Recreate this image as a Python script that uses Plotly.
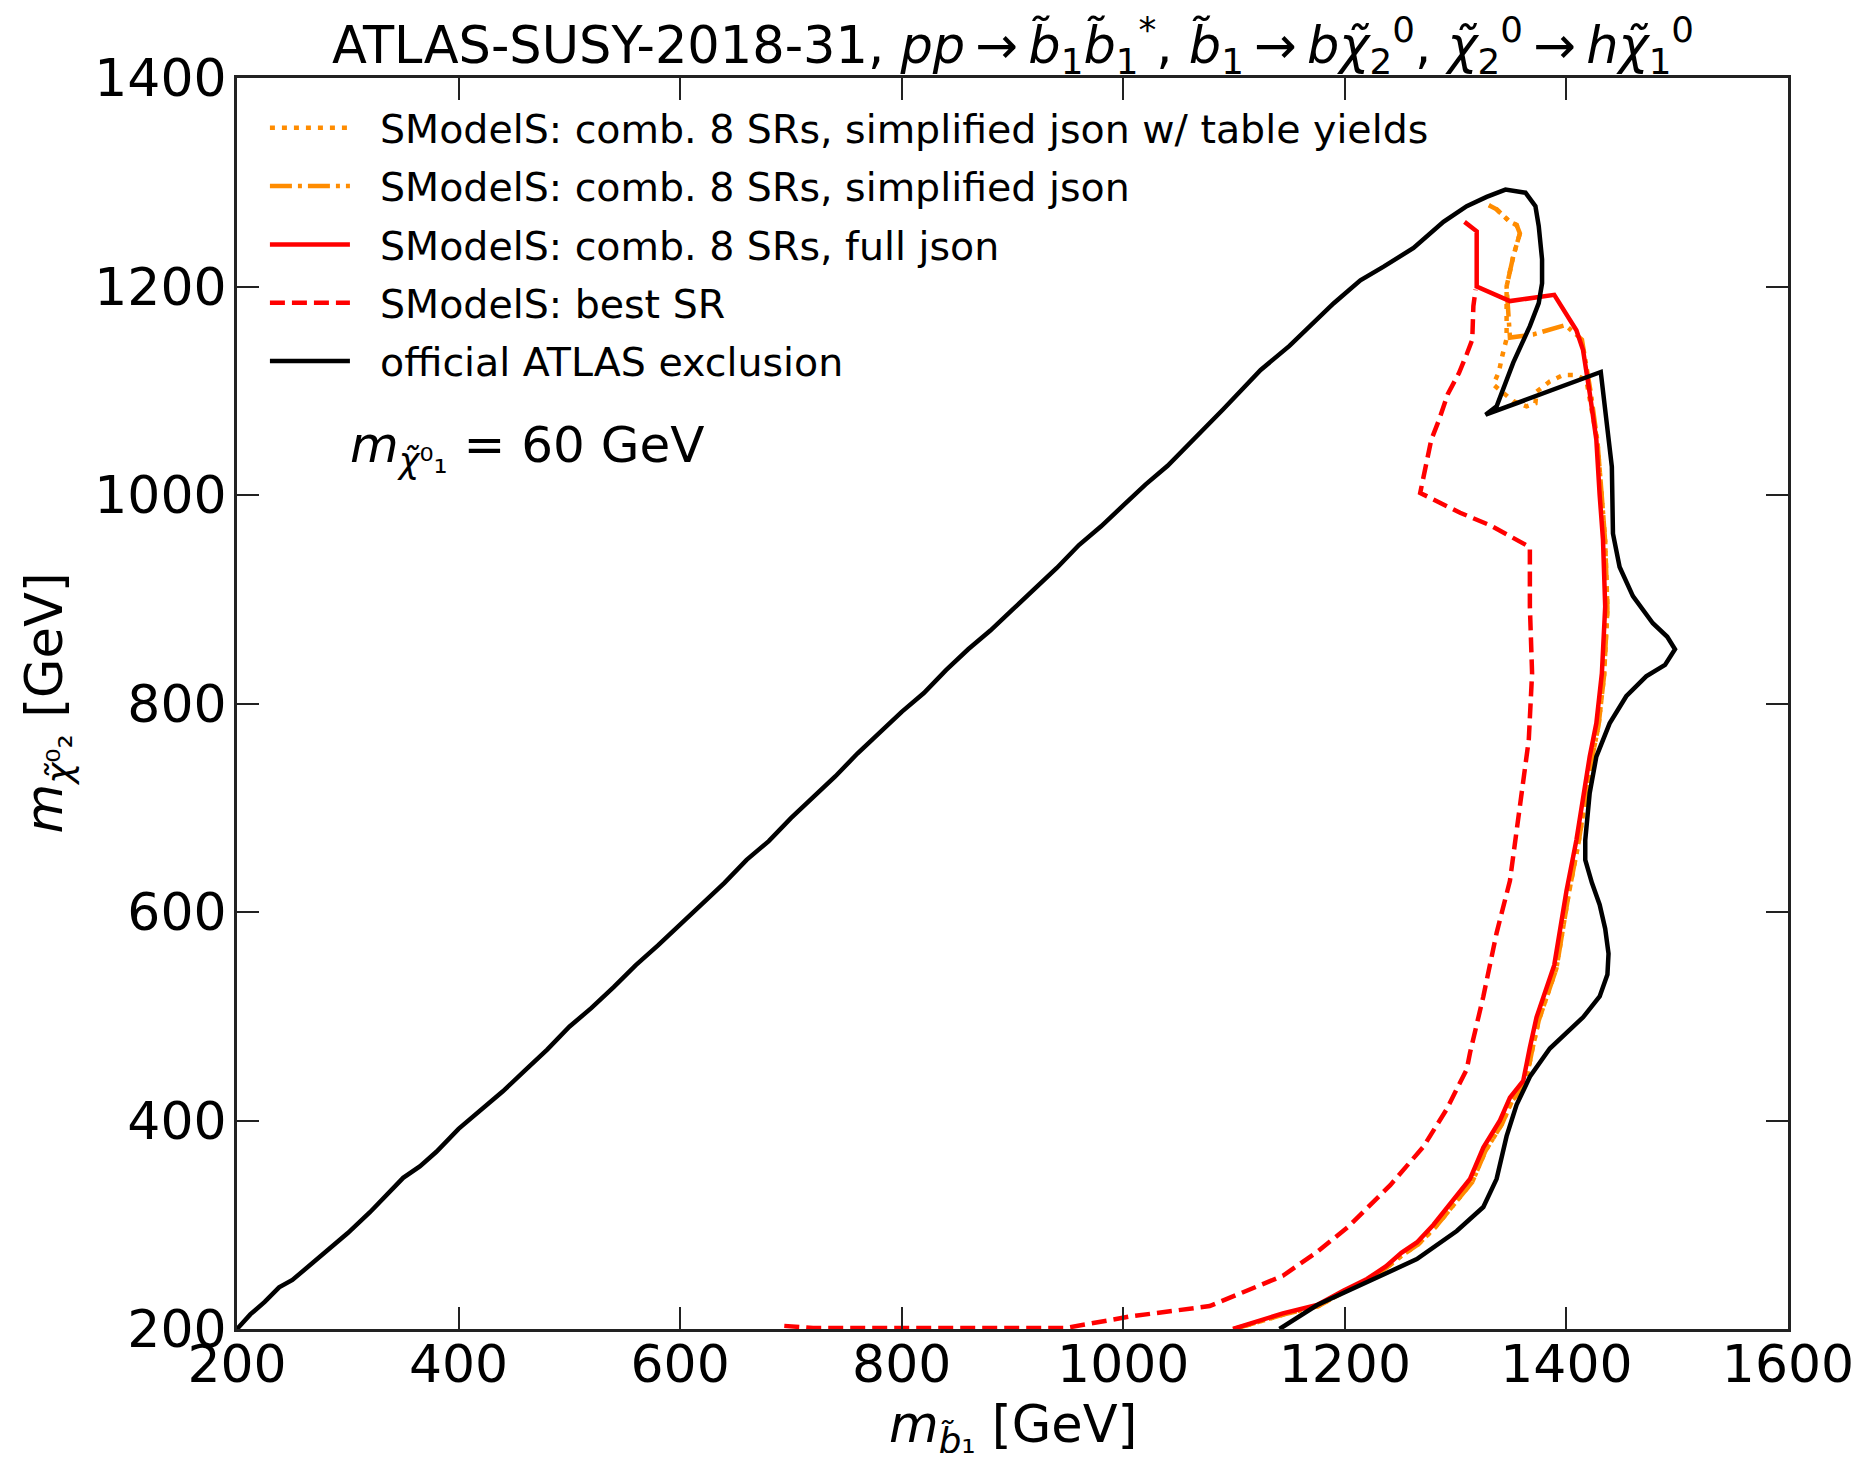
import plotly.graph_objects as go

# ---------------- data ----------------
official_x = [200, 212, 225, 238, 250, 262, 280, 300, 320, 340,
              350, 365, 380, 400, 420, 440, 460, 480, 500, 520,
              540, 560, 580, 600, 620, 640, 660, 680, 700, 720,
              740, 760, 780, 800, 820, 840, 860, 880, 900, 920,
              940, 960, 980, 1000, 1020, 1040, 1069, 1090, 1124, 1150,
              1190, 1214, 1235, 1250, 1262, 1289, 1310, 1328, 1345, 1363,
              1372, 1375, 1378, 1378, 1375, 1367, 1352, 1337, 1327, 1431,
              1436, 1441, 1442, 1448, 1460, 1478, 1491, 1498, 1489, 1472,
              1454, 1439, 1427, 1421, 1417, 1417, 1423, 1430, 1435, 1438,
              1437, 1430, 1415, 1385, 1367, 1355, 1346, 1337, 1325, 1301,
              1265, 1205, 1175, 1141]
official_y = [200, 214, 226, 240, 247, 258, 274, 292, 312, 333,
              345, 356, 370, 392, 410, 428, 448, 468, 490, 508,
              528, 549, 568, 588, 608, 628, 650, 668, 690, 710,
              730, 752, 772, 792, 810, 832, 852, 870, 890, 910,
              930, 952, 970, 990, 1010, 1028, 1059, 1082, 1120, 1143,
              1184, 1206, 1219, 1229, 1237, 1262, 1277, 1286, 1293, 1290,
              1277, 1258, 1226, 1203, 1184, 1162, 1127, 1085, 1077, 1118,
              1075, 1027, 963, 931, 903, 877, 864, 852, 837, 826,
              807, 781, 749, 714, 669, 650, 628, 607, 584, 560,
              540, 519, 499, 469, 442, 415, 385, 344, 317, 294,
              267, 237, 223, 200]

full_x = [1099, 1120, 1144, 1175, 1199, 1220, 1237, 1251, 1265, 1280,
          1295, 1313, 1325, 1340, 1349, 1361, 1367, 1373, 1389, 1400,
          1409, 1415, 1421, 1427, 1432, 1435, 1433, 1430, 1427, 1421,
          1415, 1409, 1389, 1349, 1319, 1319, 1308]
full_y = [200, 207, 215, 223, 237, 248, 260, 273, 283, 300,
          320, 344, 374, 400, 422, 438, 470, 499, 549, 620,
          669, 708, 749, 781, 829, 893, 957, 1000, 1053, 1098,
          1139, 1158, 1192, 1186, 1200, 1253, 1262]

simp_x = [1100, 1120, 1145, 1176, 1200, 1221, 1238, 1252, 1266, 1282,
          1297, 1315, 1327, 1342, 1351, 1363, 1369, 1375, 1391, 1402,
          1411, 1417, 1423, 1429, 1434, 1437, 1435, 1432, 1428, 1422,
          1414, 1399, 1370, 1349, 1346, 1352, 1358, 1355, 1349, 1337,
          1330]
simp_y = [200, 206, 214, 222, 236, 247, 259, 271, 281, 298,
          318, 341, 371, 397, 419, 435, 467, 496, 546, 617,
          667, 706, 747, 779, 827, 891, 955, 998, 1051, 1098,
          1149, 1163, 1154, 1151, 1200, 1229, 1251, 1259, 1262, 1274,
          1278]

table_x = [1100, 1120, 1145, 1176, 1200, 1221, 1238, 1252, 1266, 1282,
           1297, 1315, 1327, 1342, 1351, 1363, 1369, 1375, 1391, 1402,
           1411, 1417, 1423, 1429, 1434, 1437, 1435, 1432, 1428, 1418,
           1409, 1397, 1385, 1373, 1372, 1364, 1352, 1334, 1339, 1342,
           1346, 1346, 1352, 1358, 1355, 1349, 1337, 1330]
table_y = [200, 206, 214, 222, 236, 247, 259, 271, 281, 298,
           318, 341, 371, 397, 419, 435, 467, 496, 546, 617,
           667, 706, 747, 779, 827, 891, 955, 998, 1051, 1110,
           1115, 1115, 1109, 1099, 1088, 1085, 1090, 1106, 1118, 1133,
           1150, 1200, 1229, 1251, 1259, 1262, 1274, 1278]

best_x = [694, 720, 800, 900, 948, 1006, 1078, 1144, 1175, 1203,
          1241, 1271, 1292, 1310, 1313, 1325, 1337, 1349, 1354, 1358,
          1366, 1369, 1367, 1367, 1331, 1304, 1268, 1278, 1285, 1293,
          1303, 1310, 1315, 1316, 1318]
best_y = [203, 201, 201, 201, 201, 212, 222, 251, 274, 298,
          338, 375, 411, 449, 465, 519, 580, 630, 669, 708,
          765, 829, 893, 950, 971, 983, 1002, 1053, 1072, 1097,
          1117, 1135, 1149, 1181, 1197]

x_ticks = [200, 400, 600, 800, 1000, 1200, 1400, 1600]
y_ticks = [200, 400, 600, 800, 1000, 1200, 1400]

names = [
    "SModelS: comb. 8 SRs, simplified json w/ table yields",
    "SModelS: comb. 8 SRs, simplified json",
    "SModelS: comb. 8 SRs, full json",
    "SModelS: best SR",
    "official ATLAS exclusion",
]

FONT = "DejaVu Sans"
ORANGE = "#FF8C00"
LW = 4.5

fig = go.Figure()
series = [
    (table_x, table_y, names[0], ORANGE, "5px,7px"),
    (simp_x, simp_y, names[1], ORANGE, "22px,6px,4px,6px"),
    (full_x, full_y, names[2], "#FF0000", "solid"),
    (best_x, best_y, names[3], "#FF0000", "15px,7px"),
    (official_x, official_y, names[4], "#000000", "solid"),
]
for i, (xs, ys, nm, col, dash) in enumerate(series):
    fig.add_trace(go.Scatter(
        x=xs, y=ys, mode="lines", name="\u00a0\u00a0" + nm,
        legendgroup=f"g{i}",
        line=dict(color=col, width=LW, dash=dash),
    ))

axis_common = dict(
    showline=True, linecolor="#222222", linewidth=3, mirror="allticks",
    ticks="inside", ticklen=22, tickwidth=2, tickcolor="#222222",
    showgrid=False, zeroline=False, automargin=False,
    ticklabeloverflow="allow",
    tickfont=dict(family=FONT, size=52, color="black"),
)

fig.update_xaxes(range=[200, 1600], tickvals=x_ticks,
                 ticktext=[str(v) for v in x_ticks], ticklabelstandoff=-12,
                 **axis_common)
fig.update_yaxes(range=[200, 1400], tickvals=y_ticks,
                 ticktext=[str(v) for v in y_ticks], ticklabelstandoff=-3,
                 **axis_common)

# the page body has an 8px margin: compensate so the plot area lands where it should
fig.update_layout(
    width=1847, height=1445,
    margin=dict(l=229, r=67, t=70, b=124),
    paper_bgcolor="white", plot_bgcolor="white",
    font=dict(family=FONT, color="black"),
    showlegend=True,
    legend=dict(
        x=0.018, y=0.986, xanchor="left", yanchor="top",
        bgcolor="rgba(0,0,0,0)", borderwidth=0,
        font=dict(family=FONT, size=39.5, color="black"),
        itemwidth=80, traceorder="grouped", tracegroupgap=4,
    ),
)

ann = [
    dict(text="ATLAS-SUSY-2018-31, <i>pp</i>\u2009\u2192\u2009<i>b\u0303</i><sub>1</sub><i>b\u0303</i><sub>1</sub><sup>*</sup>, "
              "<i>b\u0303</i><sub>1</sub>\u2009\u2192\u2009<i>b\u03c7\u0303</i><sub>2</sub><sup>0</sup>, "
              "<i>\u03c7\u0303</i><sub>2</sub><sup>0</sup>\u2009\u2192\u2009<i>h\u03c7\u0303</i><sub>1</sub><sup>0</sup>",
         xref="paper", yref="paper", x=0.5, y=1.026, xanchor="center", yanchor="middle",
         showarrow=False, font=dict(family=FONT, size=51, color="black")),
    dict(text="<i>m</i><sub><i>b\u0303</i>\u2081</sub> [GeV]",
         xref="paper", yref="paper", x=0.5, y=-0.079, xanchor="center", yanchor="middle",
         showarrow=False, font=dict(family=FONT, size=51, color="black")),
    dict(text="<i>m</i><sub><i>\u03c7\u0303</i>\u2070\u2082</sub> [GeV]",
         xref="paper", yref="paper", x=-0.1225, y=0.5, xanchor="center", yanchor="middle",
         textangle=-90, showarrow=False, font=dict(family=FONT, size=51, color="black")),
    dict(text="<i>m</i><sub><i>\u03c7\u0303</i>\u2070\u2081</sub> = 60 GeV",
         xref="x", yref="y", x=300, y=1045, xanchor="left", yanchor="middle",
         showarrow=False, font=dict(family=FONT, size=50, color="black")),
]
fig.update_layout(annotations=ann)

fig.write_html("out.html")
